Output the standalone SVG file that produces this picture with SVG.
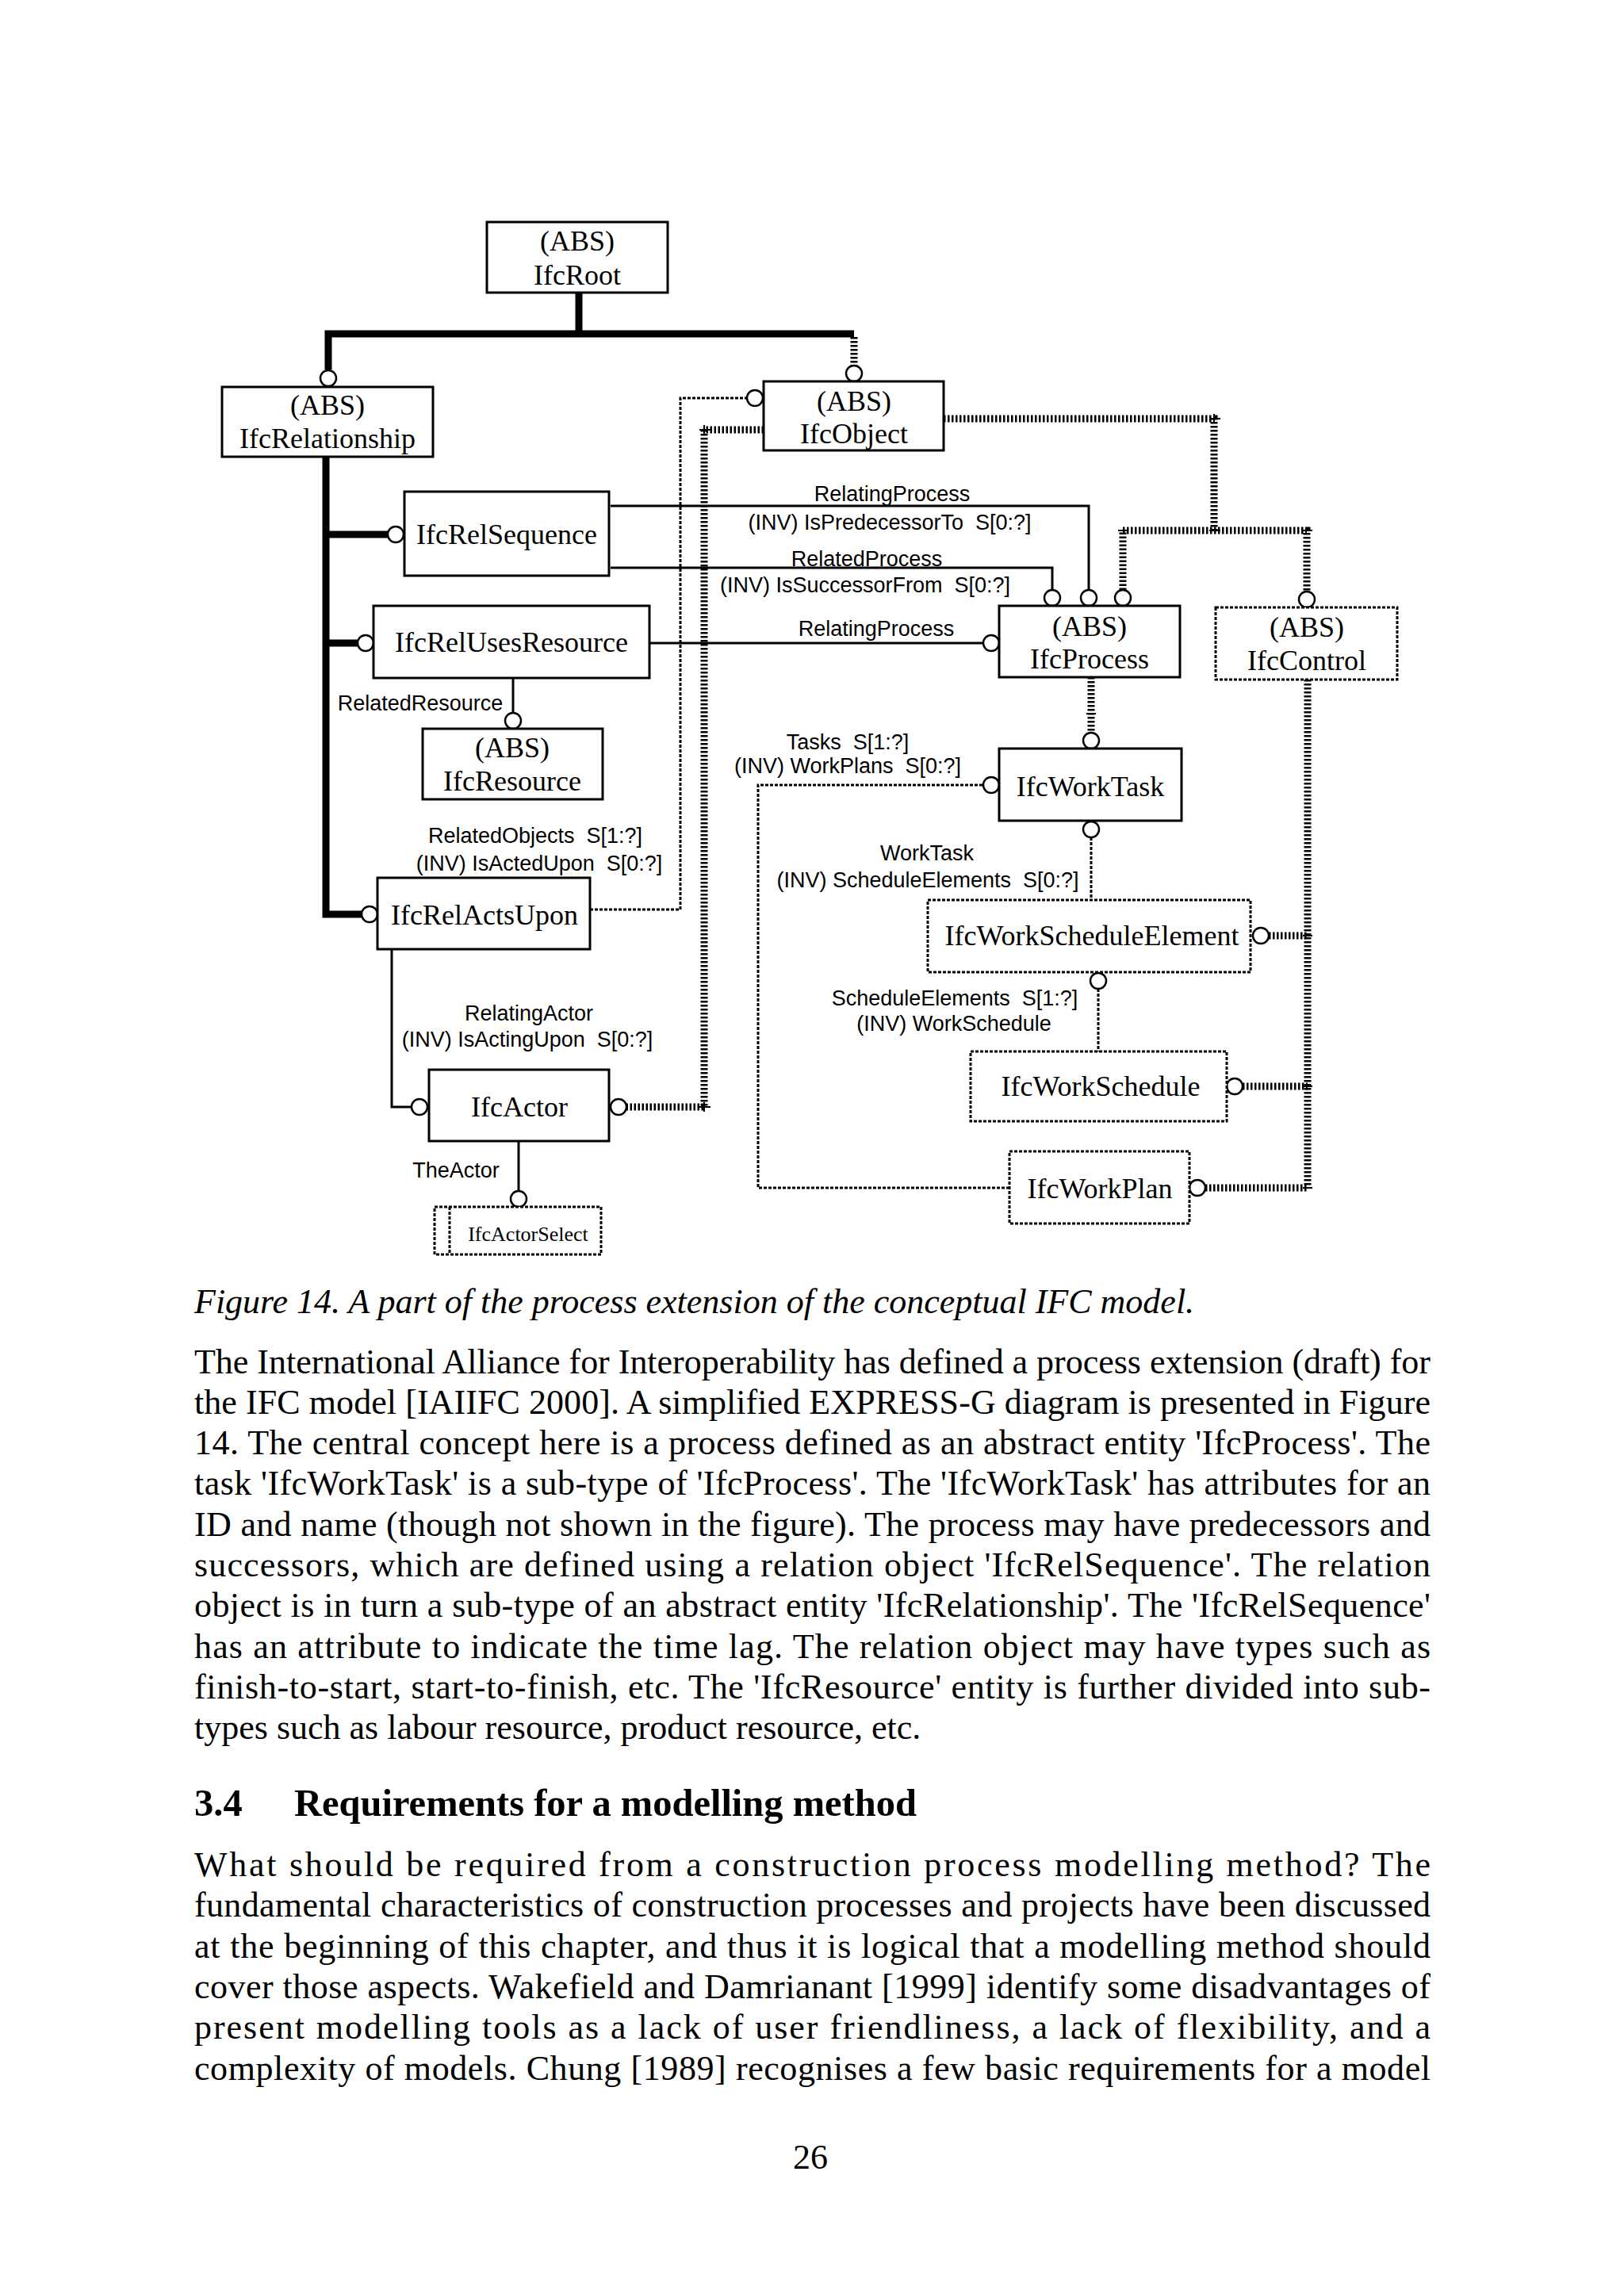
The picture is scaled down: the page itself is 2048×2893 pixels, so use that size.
<svg xmlns="http://www.w3.org/2000/svg" width="2048" height="2893" viewBox="0 0 2048 2893">
<style>
.box{fill:#fff;stroke:#000;stroke-width:3}
.dbox{fill:#fff;stroke:#000;stroke-width:3;stroke-dasharray:4 2}
.t{font-family:"Liberation Serif","Times New Roman",serif;font-size:36px;text-anchor:middle;fill:#000}
.ts{font-family:"Liberation Serif","Times New Roman",serif;font-size:26px;text-anchor:middle;fill:#000}
.l{font-family:"Liberation Sans",Arial,sans-serif;font-size:27px;text-anchor:middle;white-space:pre;fill:#000}
.thin{fill:none;stroke:#000;stroke-width:3}
.thind{fill:none;stroke:#000;stroke-width:3;stroke-dasharray:4 2}
.thick{fill:none;stroke:#000;stroke-width:9}
.thickd{fill:none;stroke:#000;stroke-width:9;stroke-dasharray:2.5 2.5}
.tick{fill:none;stroke:#000;stroke-width:2}
.c{fill:#fff;stroke:#000;stroke-width:2.5}
.body{font-family:"Liberation Serif","Times New Roman",serif;font-size:44px;fill:#000;white-space:pre}
.head{font-family:"Liberation Serif","Times New Roman",serif;font-size:48.5px;font-weight:bold;fill:#000}
</style>
<rect x="0" y="0" width="2048" height="2893" fill="#fff"/>

<g id="connectors">
  <!-- thick solid supertype lines -->
  <path class="thick" d="M730,370 V421"/>
  <path class="thick" d="M414,466 V421 H1077"/>
  <path class="thick" d="M411,576 V1153 H456"/>
  <path class="thick" d="M411,674 H489"/>
  <path class="thick" d="M411,811 H451"/>
  <!-- thick dashed supertype lines -->
  <path class="thickd" d="M1077,425 V461"/>
  <path class="thickd" d="M963,542 H888 V1396 H790"/>
  <path class="thickd" d="M1190,528 H1531 V669"/>
  <path class="thickd" d="M1416,744 V669 H1648 V746"/>
  <path class="thickd" d="M1376,854 V924"/>
  <path class="thickd" d="M1649,857 V1498"/>
  <path class="thickd" d="M1600,1180 H1649"/>
  <path class="thickd" d="M1567,1370 H1649"/>
  <path class="thickd" d="M1520,1498 H1649"/>
  <!-- junction ticks -->
  <path class="tick" d="M882,542 H896 M888,536 V548"/>
  <path class="tick" d="M882,1396 H896 M888,1390 V1402"/>
  <path class="tick" d="M1525,528 H1539 M1531,522 V534"/>
  <path class="tick" d="M1525,669 H1539"/>
  <path class="tick" d="M1410,669 H1422 M1642,669 H1655"/>
  <path class="tick" d="M1370,900 H1382"/>
  <path class="tick" d="M1643,1180 H1655 M1643,1370 H1655 M1643,1498 H1655"/>
  <!-- thin solid relation lines -->
  <path class="thin" d="M770,638 H1373 V744"/>
  <path class="thin" d="M770,716 H1327 V744"/>
  <path class="thin" d="M820,811 H1240"/>
  <path class="thin" d="M647,855 V899"/>
  <path class="thin" d="M494,1197 V1396 H519"/>
  <path class="thin" d="M654,1439 V1502"/>
  <!-- thin dashed relation lines -->
  <path class="thind" d="M744,1147 H858 V502 H942"/>
  <path class="thind" d="M1273,1498 H956 V990 H1240"/>
  <path class="thind" d="M1376,1056 V1135"/>
  <path class="thind" d="M1385,1247 V1326"/>
  <!-- end circles -->
  <circle class="c" cx="414" cy="477" r="10"/>
  <circle class="c" cx="1077" cy="471" r="10"/>
  <circle class="c" cx="952" cy="502" r="10"/>
  <circle class="c" cx="499" cy="674" r="10"/>
  <circle class="c" cx="461" cy="811" r="10"/>
  <circle class="c" cx="466" cy="1153" r="10"/>
  <circle class="c" cx="647" cy="909" r="10"/>
  <circle class="c" cx="1327" cy="754" r="10"/>
  <circle class="c" cx="1373" cy="754" r="10"/>
  <circle class="c" cx="1416" cy="754" r="10"/>
  <circle class="c" cx="1648" cy="756" r="10"/>
  <circle class="c" cx="1250" cy="811" r="10"/>
  <circle class="c" cx="1376" cy="934" r="10"/>
  <circle class="c" cx="1250" cy="990" r="10"/>
  <circle class="c" cx="1376" cy="1046" r="10"/>
  <circle class="c" cx="1590" cy="1180" r="10"/>
  <circle class="c" cx="1385" cy="1237" r="10"/>
  <circle class="c" cx="1557" cy="1370" r="10"/>
  <circle class="c" cx="1510" cy="1498" r="10"/>
  <circle class="c" cx="529" cy="1396" r="10"/>
  <circle class="c" cx="780" cy="1396" r="10"/>
  <circle class="c" cx="654" cy="1512" r="10"/>
  <!-- labels -->
  <text class="l" x="1125" y="632">RelatingProcess</text>
  <text class="l" x="1122" y="668">(INV) IsPredecessorTo  S[0:?]</text>
  <text class="l" x="1093" y="714">RelatedProcess</text>
  <text class="l" x="1091" y="747">(INV) IsSuccessorFrom  S[0:?]</text>
  <text class="l" x="1105" y="802">RelatingProcess</text>
  <text class="l" x="530" y="896">RelatedResource</text>
  <text class="l" x="675" y="1063">RelatedObjects  S[1:?]</text>
  <text class="l" x="680" y="1098">(INV) IsActedUpon  S[0:?]</text>
  <text class="l" x="667" y="1287">RelatingActor</text>
  <text class="l" x="665" y="1320">(INV) IsActingUpon  S[0:?]</text>
  <text class="l" x="575" y="1485">TheActor</text>
  <text class="l" x="1069" y="945">Tasks  S[1:?]</text>
  <text class="l" x="1069" y="975">(INV) WorkPlans  S[0:?]</text>
  <text class="l" x="1169" y="1085">WorkTask</text>
  <text class="l" x="1170" y="1119">(INV) ScheduleElements  S[0:?]</text>
  <text class="l" x="1204" y="1268">ScheduleElements  S[1:?]</text>
  <text class="l" x="1203" y="1300">(INV) WorkSchedule</text>
</g>

<g id="IfcRoot">
  <rect class="box" x="614" y="280" width="228" height="89"/>
  <text class="t" x="728" y="316">(ABS)</text>
  <text class="t" x="728" y="359">IfcRoot</text>
</g>
<g id="IfcRelationship">
  <rect class="box" x="280" y="488" width="266" height="88"/>
  <text class="t" x="413" y="523">(ABS)</text>
  <text class="t" x="413" y="565">IfcRelationship</text>
</g>
<g id="IfcObject">
  <rect class="box" x="963" y="481" width="227" height="87"/>
  <text class="t" x="1077" y="518">(ABS)</text>
  <text class="t" x="1077" y="559">IfcObject</text>
</g>
<g id="IfcRelSequence">
  <rect class="box" x="510" y="620" width="258" height="106"/>
  <text class="t" x="639" y="686">IfcRelSequence</text>
</g>
<g id="IfcRelUsesResource">
  <rect class="box" x="471" y="764" width="348" height="91"/>
  <text class="t" x="645" y="822">IfcRelUsesResource</text>
</g>
<g id="IfcResource">
  <rect class="box" x="533" y="919" width="227" height="89"/>
  <text class="t" x="646" y="955">(ABS)</text>
  <text class="t" x="646" y="997">IfcResource</text>
</g>
<g id="IfcRelActsUpon">
  <rect class="box" x="476" y="1107" width="268" height="90"/>
  <text class="t" x="611" y="1166">IfcRelActsUpon</text>
</g>
<g id="IfcActor">
  <rect class="box" x="541" y="1349" width="227" height="90"/>
  <text class="t" x="655" y="1408">IfcActor</text>
</g>
<g id="IfcActorSelect">
  <rect class="dbox" x="548" y="1522" width="210" height="60"/>
  <path class="thind" d="M567,1522 V1582"/>
  <text class="ts" x="666" y="1565">IfcActorSelect</text>
</g>
<g id="IfcProcess">
  <rect class="box" x="1260" y="764" width="228" height="90"/>
  <text class="t" x="1374" y="802">(ABS)</text>
  <text class="t" x="1374" y="843">IfcProcess</text>
</g>
<g id="IfcControl">
  <rect class="dbox" x="1533" y="766" width="229" height="91"/>
  <text class="t" x="1648" y="803">(ABS)</text>
  <text class="t" x="1648" y="845">IfcControl</text>
</g>
<g id="IfcWorkTask">
  <rect class="box" x="1260" y="944" width="230" height="91"/>
  <text class="t" x="1375" y="1004">IfcWorkTask</text>
</g>
<g id="IfcWorkScheduleElement">
  <rect class="dbox" x="1170" y="1135" width="407" height="91"/>
  <text class="t" x="1377" y="1192">IfcWorkScheduleElement</text>
</g>
<g id="IfcWorkSchedule">
  <rect class="dbox" x="1224" y="1326" width="323" height="88"/>
  <text class="t" x="1388" y="1382">IfcWorkSchedule</text>
</g>
<g id="IfcWorkPlan">
  <rect class="dbox" x="1273" y="1452" width="227" height="91"/>
  <text class="t" x="1387" y="1511">IfcWorkPlan</text>
</g>

<g id="page-text">
  <text class="body" x="245" y="1656" font-style="italic">Figure 14. A part of the process extension of the conceptual IFC model.</text>
  <text class="body" x="245" y="1732" textLength="1559" lengthAdjust="spacing">The International Alliance for Interoperability has defined a process extension (draft) for</text>
  <text class="body" x="245" y="1783" textLength="1559" lengthAdjust="spacing">the IFC model [IAIIFC 2000]. A simplified EXPRESS-G diagram is presented in Figure</text>
  <text class="body" x="245" y="1834" textLength="1559" lengthAdjust="spacing">14. The central concept here is a process defined as an abstract entity 'IfcProcess'. The</text>
  <text class="body" x="245" y="1885" textLength="1559" lengthAdjust="spacing">task 'IfcWorkTask' is a sub-type of 'IfcProcess'. The 'IfcWorkTask' has attributes for an</text>
  <text class="body" x="245" y="1937" textLength="1559" lengthAdjust="spacing">ID and name (though not shown in the figure). The process may have predecessors and</text>
  <text class="body" x="245" y="1988" textLength="1559" lengthAdjust="spacing">successors, which are defined using a relation object 'IfcRelSequence'. The relation</text>
  <text class="body" x="245" y="2039" textLength="1559" lengthAdjust="spacing">object is in turn a sub-type of an abstract entity 'IfcRelationship'. The 'IfcRelSequence'</text>
  <text class="body" x="245" y="2091" textLength="1559" lengthAdjust="spacing">has an attribute to indicate the time lag. The relation object may have types such as</text>
  <text class="body" x="245" y="2142" textLength="1559" lengthAdjust="spacing">finish-to-start, start-to-finish, etc. The 'IfcResource' entity is further divided into sub-</text>
  <text class="body" x="245" y="2193">types such as labour resource, product resource, etc.</text>
  <text class="head" x="245" y="2290">3.4</text>
  <text class="head" x="371" y="2290">Requirements for a modelling method</text>
  <text class="body" x="245" y="2366" textLength="1559" lengthAdjust="spacing">What should be required from a construction process modelling method? The</text>
  <text class="body" x="245" y="2417" textLength="1559" lengthAdjust="spacing">fundamental characteristics of construction processes and projects have been discussed</text>
  <text class="body" x="245" y="2469" textLength="1559" lengthAdjust="spacing">at the beginning of this chapter, and thus it is logical that a modelling method should</text>
  <text class="body" x="245" y="2520" textLength="1559" lengthAdjust="spacing">cover those aspects. Wakefield and Damrianant [1999] identify some disadvantages of</text>
  <text class="body" x="245" y="2571" textLength="1559" lengthAdjust="spacing">present modelling tools as a lack of user friendliness, a lack of flexibility, and a</text>
  <text class="body" x="245" y="2623" textLength="1559" lengthAdjust="spacing">complexity of models. Chung [1989] recognises a few basic requirements for a model</text>
  <text class="body" x="1022" y="2735" text-anchor="middle">26</text>
</g>
</svg>
